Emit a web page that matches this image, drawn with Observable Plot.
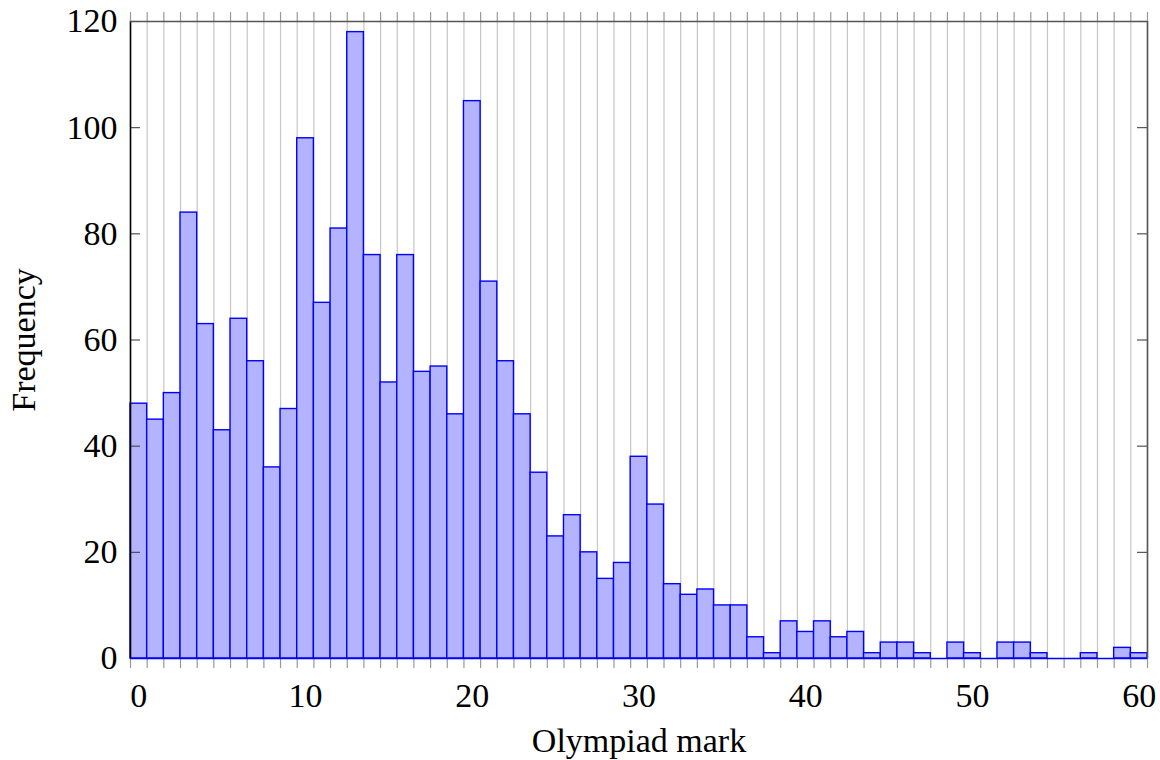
<!DOCTYPE html>
<html>
<head>
<meta charset="utf-8">
<script src="https://cdn.jsdelivr.net/npm/d3@7"></script>
<script src="https://cdn.jsdelivr.net/npm/@observablehq/plot@0.6"></script>
<style>
  html, body { margin: 0; padding: 0; background: #ffffff; }
  #chart svg { display: block; }
</style>
</head>
<body>
<div id="chart"></div>
<script>
// ---- Data ----
const marks = [0,1,2,3,4,5,6,7,8,9,10,11,12,13,14,15,16,17,18,19,20,
  21,22,23,24,25,26,27,28,29,30,31,32,33,34,35,36,37,38,39,40,
  41,42,43,44,45,46,47,48,49,50,51,52,53,54,55,56,57,58,59,60];
const frequency = [48,45,50,84,63,43,64,56,36,47,98,67,81,118,76,52,76,54,55,46,105,
  71,56,46,35,23,27,20,15,18,38,29,14,12,13,10,10,4,1,7,5,
  7,4,5,1,3,3,1,0,3,1,0,3,3,1,0,0,1,0,2,1];
const xTicks = [0,10,20,30,40,50,60];
const yTicks = [0,20,40,60,80,100,120];
const xLabel = "Olympiad mark";
const yLabel = "Frequency";

// ---- Derived tables ----
const data = marks.map((m, i) => ({mark: m, count: frequency[i]}));
const binEdges = marks.map(m => m - 0.5).concat([marks[marks.length - 1] + 0.5]);
const xMin = binEdges[0], xMax = binEdges[binEdges.length - 1];
const yMax = yTicks[yTicks.length - 1];

const W = 1160, H = 760, mL = 130, mR = 13, mT = 21, mB = 102;
const plotW = W - mL - mR;
const FS = 34;

const chart = Plot.plot({
  width: W, height: H,
  marginLeft: mL, marginRight: mR, marginTop: mT, marginBottom: mB,
  style: {fontFamily: "'Liberation Serif', 'Times New Roman', serif", fontSize: FS + "px", background: "#ffffff", color: "#000000"},
  x: {type: "linear", domain: [xMin, xMax]},
  y: {type: "linear", domain: [0, yMax]},
  marks: [
    Plot.gridX(binEdges, {stroke: "#c6c6c6", strokeOpacity: 1, strokeWidth: 1.2}),
    Plot.axisX(binEdges, {anchor: "bottom", tickSize: 10, tickFormat: () => "", stroke: "#999999", strokeWidth: 1.2, label: null}),
    Plot.axisX(binEdges, {anchor: "top", tickSize: 10, tickFormat: () => "", stroke: "#999999", strokeWidth: 1.2, label: null}),
    Plot.rectY(data, {x1: d => d.mark - 0.5, x2: d => d.mark + 0.5, y: "count", fill: "#b3b3ff", stroke: "#0000ff", strokeWidth: 1.4}),
    Plot.ruleY([0], {stroke: "#0000ff", strokeWidth: 1.6}),
    Plot.tickY(yTicks.slice(1), {y: d => d, insetRight: plotW - 10, stroke: "#444444", strokeWidth: 1.1}),
    Plot.tickY(yTicks.slice(1), {y: d => d, insetLeft: plotW - 10, stroke: "#444444", strokeWidth: 1.1}),
    Plot.ruleX([xMin], {stroke: "#000000", strokeWidth: 1.6}),
    Plot.ruleX([xMax], {stroke: "#555555", strokeWidth: 1.6}),
    Plot.ruleY([yMax], {stroke: "#555555", strokeWidth: 1.6}),
    Plot.axisX(xTicks, {anchor: "bottom", tickSize: 0, tickPadding: 24, fontSize: FS, label: null}),
    Plot.axisY(yTicks, {anchor: "left", tickSize: 0, tickPadding: 13, fontSize: FS, label: null}),
    Plot.text([xLabel], {frameAnchor: "bottom", lineAnchor: "top", textAnchor: "middle", dy: 69, fontSize: FS, fill: "#000000"}),
    Plot.text([yLabel], {frameAnchor: "left", textAnchor: "middle", lineAnchor: "middle", rotate: -90, dx: -106, fontSize: FS, fill: "#000000"})
  ]
});
document.getElementById("chart").appendChild(chart);
</script>
</body>
</html>
